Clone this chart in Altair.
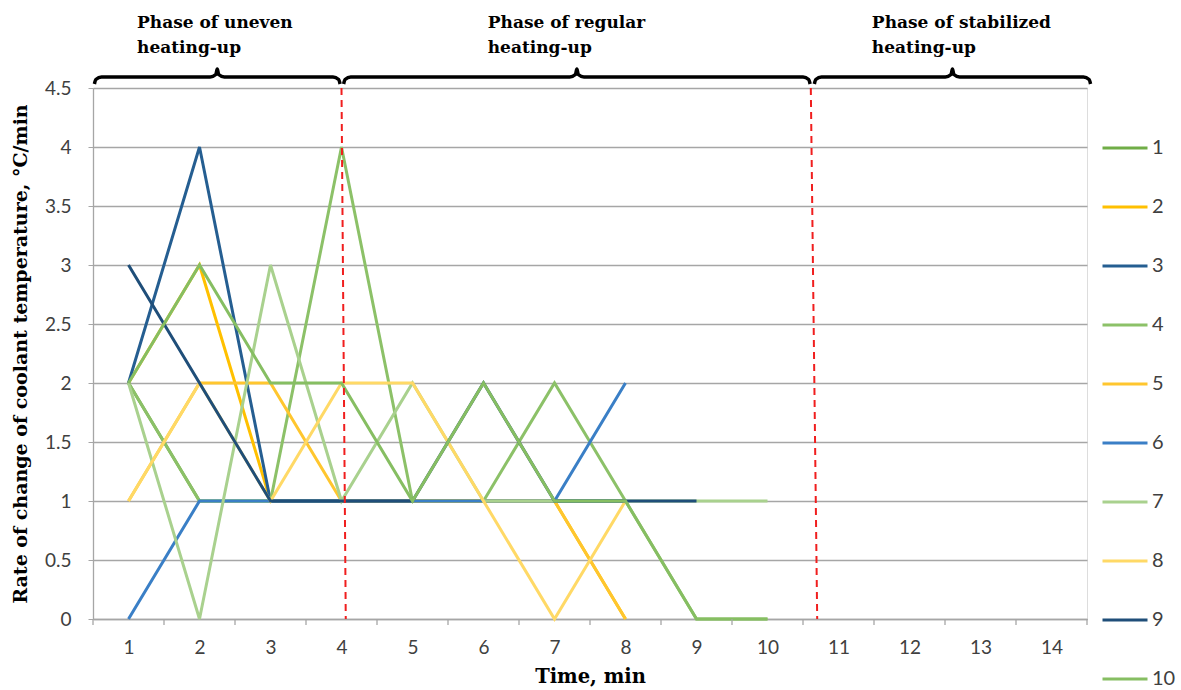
import altair as alt
import pandas as pd

# ---- data ----
times = list(range(1, 15))
series_names = [str(i) for i in range(1, 11)]
s1 = [2, 1, 1, 1, 1, 1, 1, 1]
s2 = [2, 3, 1, 1, 1, 1, 1, 0]
s3 = [2, 4, 1, 1, 1, 1, 1, 1]
s4 = [2, 1, 1, 4, 1, 1, 2, 1, 0, 0]
s5 = [1, 2, 2, 1, 1, 1, 1, 0]
s6 = [0, 1, 1, 1, 1, 1, 1, 2]
s7 = [2, 0, 3, 1, 2, 1, 1, 1, 1, 1]
s8 = [1, 2, 1, 2, 2, 1, 0, 1]
s9 = [3, 2, 1, 1, 1, 2, 1, 1, 1]
s10 = [2, 3, 2, 2, 1, 2, 1, 1, 0, 0]
all_series = [s1, s2, s3, s4, s5, s6, s7, s8, s9, s10]
colors = ["#70AD47", "#FFC000", "#255E91", "#8CC168", "#FFC62E",
          "#3A7FC6", "#A9D18E", "#FFD966", "#1F4E79", "#86BE62"]
y_ticks = [0, 0.5, 1, 1.5, 2, 2.5, 3, 3.5, 4, 4.5]

phase_labels = ["Phase of uneven\nheating-up", "Phase of regular\nheating-up",
                "Phase of stabilized\nheating-up"]
phase_start = [0.52, 4.03, 10.66]
phase_end = [3.98, 10.6, 14.55]
phase_label_x = [1.12, 6.06, 11.47]
divider_top = [4.0, 10.61]
divider_bottom = [4.06, 10.7]

# ---- tables ----
rows = []
for name, vals in zip(series_names, all_series):
    for t, v in zip(times, vals):
        rows.append({"series": name, "time": t, "rate": v})
df = pd.DataFrame(rows)

tick_df = pd.DataFrame({"tx": [t - 0.5 for t in times] + [times[-1] + 0.5]})
div_df = pd.DataFrame({"xt": divider_top, "xb": divider_bottom,
                       "yt": [y_ticks[-1]] * 2, "yb": [y_ticks[0]] * 2})
lab_df = pd.DataFrame({"lx": phase_label_x, "label": phase_labels})

brace_rows = []
for i, (a, b) in enumerate(zip(phase_start, phase_end)):
    m = (a + b) / 2
    pts = [(a, -4), (a + 0.02, -8.5), (a + 0.1, -11), (m - 0.1, -11), (m - 0.02, -13.5),
           (m, -19), (m + 0.02, -13.5), (m + 0.1, -11), (b - 0.1, -11), (b - 0.02, -8.5), (b, -4)]
    for k, (px, py) in enumerate(pts):
        brace_rows.append({"phase": i, "k": k, "bx": px, "by": py})
brace_df = pd.DataFrame(brace_rows)

W, H = 994, 531
xscale = alt.Scale(domain=[0.5, 14.5], nice=False, zero=False)
yscale = alt.Scale(domain=[0, 4.5], nice=False, zero=True)
grey = "#A6A6A6"

lines = alt.Chart(df).mark_line(strokeWidth=3).encode(
    x=alt.X("time:Q", scale=xscale,
            axis=alt.Axis(values=times, format="d", ticks=False, grid=False, title="Time, min",
                          labelFont="Lato", labelFontSize=19, labelColor="#404040",
                          labelPadding=19, domainColor=grey, domainWidth=1.3,
                          titleFont="DejaVu Serif", titleFontWeight="bold", titleFontSize=19.5,
                          titleColor="black", titleY=48, titleBaseline="top")),
    y=alt.Y("rate:Q", scale=yscale,
            axis=alt.Axis(values=y_ticks, format="~g", grid=True, gridColor=grey, gridWidth=1.3,
                          tickColor=grey, tickSize=5, domainColor=grey, domainWidth=1.3,
                          labelFont="Lato", labelFontSize=19, labelColor="#404040", labelPadding=17,
                          title="Rate of change of coolant temperature, °C/min",
                          titleFont="DejaVu Serif", titleFontWeight="bold", titleFontSize=19,
                          titleColor="black", titleX=-73, titleY=H / 2,
                          titleBaseline="middle", titleAngle=-90)),
    color=alt.Color("series:N", sort=series_names,
                    scale=alt.Scale(domain=series_names, range=colors),
                    legend=alt.Legend(title=None, orient="none", legendX=1008, legendY=36,
                                      symbolType="stroke", symbolStrokeWidth=3, symbolSize=2025,
                                      labelFont="Lato", labelFontSize=20, labelColor="#404040",
                                      rowPadding=25, padding=0, labelOffset=3)),
)

ticks = alt.Chart(tick_df).mark_rule(color=grey, strokeWidth=1.3).encode(
    x=alt.X("tx:Q", scale=xscale), y=alt.value(H), y2=alt.value(H + 6))

dividers = alt.Chart(div_df).mark_rule(color="#F01E1E", strokeWidth=2, strokeDash=[7, 5]).encode(
    x=alt.X("xt:Q", scale=xscale), x2="xb:Q",
    y=alt.Y("yt:Q", scale=yscale), y2="yb:Q")

braces = alt.Chart(brace_df).mark_line(color="black", strokeWidth=3.5, interpolate="monotone").encode(
    x=alt.X("bx:Q", scale=xscale),
    y=alt.Y("by:Q", scale=None, axis=None),
    detail="phase:N", order="k:Q")

labels = alt.Chart(lab_df).mark_text(align="left", baseline="top", font="DejaVu Serif",
                                     fontWeight="bold", fontSize=17, lineBreak="\n",
                                     lineHeight=25, color="black").encode(
    x=alt.X("lx:Q", scale=xscale), y=alt.value(-73), text="label:N")

chart = alt.layer(lines, ticks, dividers, braces, labels).properties(
    width=W, height=H,
    autosize=alt.AutoSizeParams(type="none"),
    padding={"left": 93, "top": 88, "right": 94, "bottom": 71},
).configure_view(stroke=None).configure(background="white")

chart.save("out.html", embed_options={"renderer": "svg", "actions": False})
